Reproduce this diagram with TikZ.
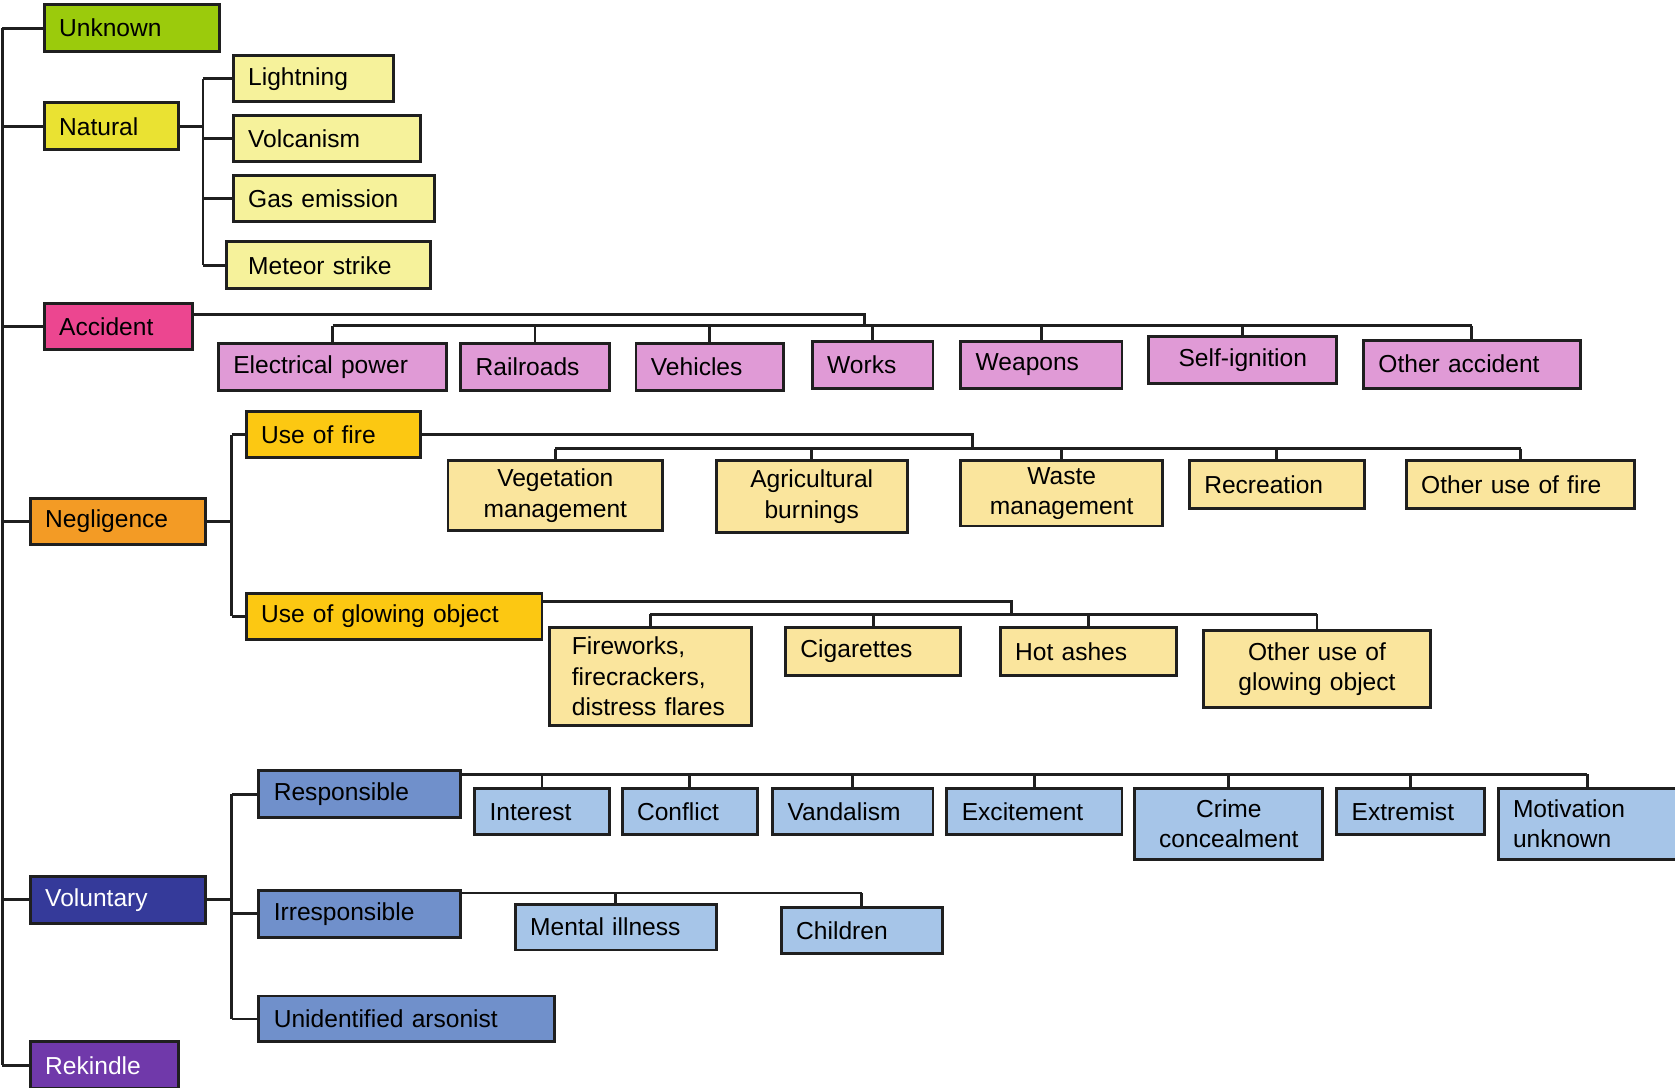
\documentclass[tikz,border=0pt]{standalone}
\usepackage{fontspec}
\setmainfont{Liberation Sans}
\definecolor{unknowncol}{HTML}{9BCB0C}
\definecolor{naturalcol}{HTML}{EAE232}
\definecolor{natsub}{HTML}{F6F29B}
\definecolor{accidentcol}{HTML}{EC4690}
\definecolor{accsub}{HTML}{E09AD6}
\definecolor{negligcol}{HTML}{F39B25}
\definecolor{usecol}{HTML}{FCC812}
\definecolor{usesub}{HTML}{FAE59D}
\definecolor{volcol}{HTML}{353A9A}
\definecolor{respcol}{HTML}{7090CB}
\definecolor{respsub}{HTML}{A6C5E8}
\definecolor{rekindlecol}{HTML}{7039AA}
\tikzset{
	box/.style={draw=black!88, line width=2.7pt, anchor=north west, inner xsep=14pt, inner ysep=2pt, align=left, minimum height=44pt, font=\fontsize{23}{28.5}\selectfont},
	link/.style={draw=black!88, line width=2.7pt},
}

\begin{document}
\begin{tikzpicture}[x=1pt,y=-1pt]
	\useasboundingbox (0,0) rectangle (1568,1018.5);
	% causes
	\node[box, fill=unknowncol, text width=136pt] (unknown) at (40,3) {Unknown};
	\node[box, fill=naturalcol, text width=98pt] (natural) at (40,95) {Natural};
	\node[box, fill=accidentcol, text width=111pt, minimum height=43pt] (accident) at (40,283) {Accident};
	\node[box, fill=negligcol, text width=136pt, minimum height=43pt] (negligence) at (27,465) {Negligence};
	\node[box, fill=volcol, text=white, text width=136pt] (voluntary) at (27,819) {Voluntary};
	\node[box, fill=rekindlecol, text=white, text width=111pt] (rekindle) at (27,974) {Rekindle};
	% natural
	\node[box, fill=natsub, text width=122pt, minimum height=43pt] (lightning) at (217,51) {Lightning};
	\node[box, fill=natsub, text width=147pt, minimum height=43pt] (volcanism) at (217,107) {Volcanism};
	\node[box, fill=natsub, text width=160pt, minimum height=43pt] (gas) at (217,163) {Gas emission};
	\node[box, fill=natsub, inner xsep=20pt, text width=151pt] (meteor) at (211,225) {Meteor strike};
	% accident
	\node[box, fill=accsub, text width=186pt] (electrical) at (203,320) {Electrical power};
	\node[box, fill=accsub, text width=111pt] (railroads) at (430,320) {Railroads};
	\node[box, fill=accsub, text width=110pt] (vehicles) at (594,320) {Vehicles};
	\node[box, fill=accsub, text width=85pt] (works) at (759,318) {Works};
	\node[box, fill=accsub, text width=123pt] (weapons) at (898,318) {Weapons};
	\node[box, fill=accsub, align=center, text width=148pt] (selfign) at (1074,314) {Self-ignition};
	\node[box, fill=accsub, text width=175pt, minimum height=45pt] (otheracc) at (1275,317) {Other accident};
	% negligence
	\node[box, fill=usecol, text width=135pt, minimum height=43pt] (usefire) at (229,384) {Use of fire};
	\node[box, fill=usecol, text width=249pt, minimum height=43pt] (useglow) at (229,554) {Use of glowing object};
	% use of fire
	\node[box, fill=usesub, align=center, text width=173pt, minimum height=65pt] (vegetation) at (418,430) {Vegetation\\management};
	\node[box, fill=usesub, align=center, text width=151pt, minimum height=67pt] (agricultural) at (669,430) {Agricultural\\burnings};
	\node[box, fill=usesub, align=center, text width=161pt, minimum height=61pt] (waste) at (898,430) {Waste\\management};
	\node[box, fill=usesub, text width=136pt, minimum height=45pt] (recreation) at (1112,430) {Recreation};
	\node[box, fill=usesub, text width=186pt, minimum height=45pt] (otherfire) at (1315,430) {Other use of fire};
	% use of glowing object
	\node[box, fill=usesub, inner xsep=21pt, text width=147pt, minimum height=92pt] (fireworks) at (513,586) {Fireworks,\\firecrackers,\\distress flares};
	\node[box, fill=usesub, text width=136pt, minimum height=45pt] (cigarettes) at (734,586) {Cigarettes};
	\node[box, fill=usesub, text width=137pt, minimum height=45pt] (hotashes) at (935,586) {Hot ashes};
	\node[box, fill=usesub, align=center, text width=185pt, minimum height=72pt] (otherglow) at (1125,589) {Other use of\\glowing object};
	% voluntary
	\node[box, fill=respcol, text width=161pt] (responsible) at (241,720) {Responsible};
	\node[box, fill=respcol, text width=161pt] (irresponsible) at (241,832) {Irresponsible};
	\node[box, fill=respcol, text width=249pt, minimum height=43pt] (unidentified) at (241,931) {Unidentified arsonist};
	% responsible
	\node[box, fill=respsub, text width=98pt, minimum height=43pt] (interest) at (443,737) {Interest};
	\node[box, fill=respsub, text width=99pt, minimum height=43pt] (conflict) at (581,737) {Conflict};
	\node[box, fill=respsub, text width=122pt, minimum height=43pt] (vandalism) at (722,737) {Vandalism};
	\node[box, fill=respsub, text width=136pt, minimum height=43pt] (excitement) at (885,737) {Excitement};
	\node[box, fill=respsub, align=center, text width=148pt, minimum height=66pt] (crime) at (1061,737) {Crime\\concealment};
	\node[box, fill=respsub, text width=110pt, minimum height=43pt] (extremist) at (1250,737) {Extremist};
	\node[box, fill=respsub, text width=139pt, minimum height=66pt] (motivation) at (1401,737) {Motivation\\unknown};
	% irresponsible
	\node[box, fill=respsub, text width=160pt, minimum height=43pt] (mental) at (481,845) {Mental illness};
	\node[box, fill=respsub, text width=123pt, minimum height=43pt] (children) at (730,848) {Children};

	% trunk
	\coordinate (trunk) at (2,0);
	\draw[link] (trunk |- unknown.west) -- (trunk |- rekindle.west);
	\foreach \c in {unknown,natural,accident,negligence,voluntary,rekindle}
		\draw[link] (trunk |- \c.west) -- (\c.west);
	% natural
	\coordinate (natbus) at (190,0);
	\draw[link] (natural.east) -- (natural.east -| natbus);
	\draw[link] (natbus |- lightning.west) -- (natbus |- meteor.west);
	\foreach \c in {lightning,volcanism,gas,meteor}
		\draw[link] (natbus |- \c.west) -- (\c.west);
	% accident
	\coordinate (accup) at (809,294);
	\coordinate (accbus) at (809,305);
	\draw[link] (accident.east |- accup) -- (accup) -- (accbus);
	\draw[link] (electrical.north |- accbus) -- (otheracc.north |- accbus);
	\foreach \c in {electrical,railroads,vehicles,works,weapons,selfign,otheracc}
		\draw[link] (\c.north |- accbus) -- (\c.north);
	% negligence
	\coordinate (negbus) at (217,0);
	\draw[link] (negligence.east) -- (negligence.east -| negbus);
	\draw[link] (negbus |- usefire.west) -- (negbus |- useglow.west);
	\foreach \c in {usefire,useglow}
		\draw[link] (negbus |- \c.west) -- (\c.west);
	% use of fire
	\coordinate (firebus) at (910,420);
	\draw[link] (usefire.east) -| (firebus);
	\draw[link] (vegetation.north |- firebus) -- (otherfire.north |- firebus);
	\foreach \c in {vegetation,agricultural,waste,recreation,otherfire}
		\draw[link] (\c.north |- firebus) -- (\c.north);
	% use of glowing object
	\coordinate (glowup) at (947,563);
	\coordinate (glowbus) at (947,575);
	\draw[link] (useglow.east |- glowup) -- (glowup) -- (glowbus);
	\draw[link] (fireworks.north |- glowbus) -- (otherglow.north |- glowbus);
	\foreach \c in {fireworks,cigarettes,hotashes,otherglow}
		\draw[link] (\c.north |- glowbus) -- (\c.north);
	% voluntary
	\coordinate (volbus) at (217,0);
	\draw[link] (voluntary.east) -- (voluntary.east -| volbus);
	\draw[link] (volbus |- responsible.west) -- (volbus |- unidentified.west);
	\foreach \c in {responsible,irresponsible,unidentified}
		\draw[link] (volbus |- \c.west) -- (\c.west);
	% responsible
	\coordinate (respbus) at (0,725);
	\draw[link] (responsible.east |- respbus) -- (motivation.north |- respbus);
	\foreach \c in {interest,conflict,vandalism,excitement,crime,extremist,motivation}
		\draw[link] (\c.north |- respbus) -- (\c.north);
	% irresponsible
	\coordinate (irrbus) at (0,836);
	\draw[link] (irresponsible.east |- irrbus) -- (children.north |- irrbus);
	\foreach \c in {mental,children}
		\draw[link] (\c.north |- irrbus) -- (\c.north);
\end{tikzpicture}
\end{document}
